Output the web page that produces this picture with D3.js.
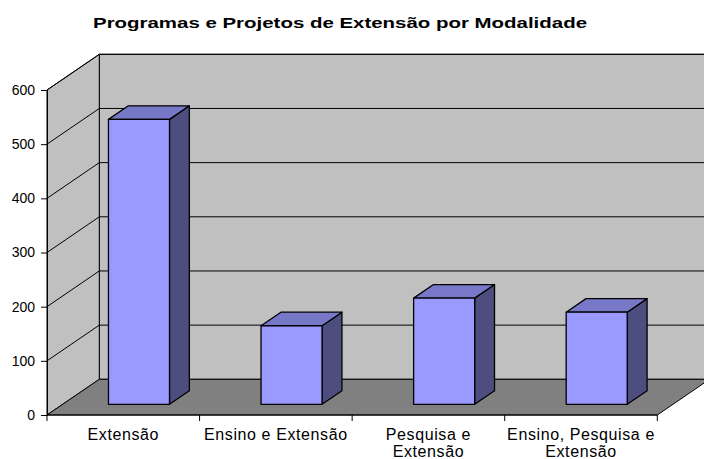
<!DOCTYPE html>
<html>
<head>
<meta charset="utf-8">
<script src="https://cdn.jsdelivr.net/npm/d3@7"></script>
<style>
  html, body { margin: 0; padding: 0; background: #fff; }
  svg { display: block; }
  text { font-family: "Liberation Sans", Arial, sans-serif; fill: #000; }
</style>
</head>
<body>
<svg id="chart" width="704" height="459"></svg>
<script>
// ---- data ----
const title = "Programas e Projetos de Extensão por Modalidade";
const categories = ["Extensão", "Ensino e Extensão", "Pesquisa e Extensão", "Ensino, Pesquisa e Extensão"];
const categoryLines = [["Extensão"], ["Ensino e Extensão"], ["Pesquisa e", "Extensão"], ["Ensino, Pesquisa e", "Extensão"]];
const values = [526, 145, 196, 170];
const yTicks = [0, 100, 200, 300, 400, 500, 600];

// ---- layout ----
const svg = d3.select("#chart");
const x0 = 47, yZero = 415, plotW = 610.3, plotH = 325;
const depthDx = 52.3, depthDy = -35.7;
const barFront = 0.3, barBack = 0.68, barFrac = 0.4;

const xBand = d3.scaleBand().domain(categories).range([x0, x0 + plotW]).padding(0);
const y = d3.scaleLinear().domain([0, 600]).range([yZero, yZero - plotH]);

// project point: u = x on front plane, v = value, d = depth fraction
const P = (u, v, d) => [u + d * depthDx, y(v) + d * depthDy];
const poly = pts => "M" + pts.map(p => p.join(",")).join("L") + "Z";

const xEnd = x0 + plotW;
// back wall
svg.append("path")
  .attr("d", poly([P(x0, 0, 1), P(x0, 600, 1), P(xEnd, 600, 1), P(xEnd, 0, 1)]))
  .attr("fill", "#C0C0C0").attr("stroke", "#000").attr("stroke-width", 1);
// left wall
svg.append("path")
  .attr("d", poly([P(x0, 0, 0), P(x0, 600, 0), P(x0, 600, 1), P(x0, 0, 1)]))
  .attr("fill", "#C0C0C0").attr("stroke", "#000").attr("stroke-width", 1);
// floor
svg.append("path")
  .attr("d", poly([P(x0, 0, 0), P(xEnd, 0, 0), P(xEnd, 0, 1), P(x0, 0, 1)]))
  .attr("fill", "#808080").attr("stroke", "#000").attr("stroke-width", 1);

// gridlines
const grid = svg.append("g").attr("stroke", "#000").attr("stroke-width", 1).attr("fill", "none");
yTicks.filter(v => v > 0).forEach(v => {
  const a = P(x0, v, 0), b = P(x0, v, 1), c = P(xEnd, v, 1);
  grid.append("path").attr("d", `M${a}L${b}L${c}`);
});

// bars
const bars = svg.append("g");
categories.forEach((c, i) => {
  const v = values[i];
  const cx = xBand(c) + xBand.bandwidth() / 2;
  const w = xBand.bandwidth() * barFrac;
  const l = cx - w / 2, r = cx + w / 2;
  const g = bars.append("g").attr("stroke", "#000").attr("stroke-width", 1.3).attr("stroke-linejoin", "round");
  g.append("path").attr("d", poly([P(r, 0, barFront), P(r, v, barFront), P(r, v, barBack), P(r, 0, barBack)]))
    .attr("fill", "#4D4D80");
  g.append("path").attr("d", poly([P(l, v, barFront), P(r, v, barFront), P(r, v, barBack), P(l, v, barBack)]))
    .attr("fill", "#7878C8");
  g.append("path").attr("d", poly([P(l, 0, barFront), P(r, 0, barFront), P(r, v, barFront), P(l, v, barFront)]))
    .attr("fill", "#9999FF");
});

// y axis
const yAxis = d3.axisLeft(y).tickValues(yTicks).tickSize(6).tickSizeOuter(0).tickPadding(6).tickFormat(d3.format("d"));
const ya = svg.append("g").attr("transform", `translate(${x0},0)`).call(yAxis);
ya.select(".domain").attr("stroke", "#000");
ya.selectAll(".tick line").attr("stroke", "#000");
ya.selectAll(".tick text").attr("font-size", 14).attr("font-family", '"Liberation Sans", Arial, sans-serif').attr("fill", "#000");

// x axis line & boundary ticks
const xa = svg.append("g").attr("stroke", "#000").attr("stroke-width", 1);
xa.append("line").attr("x1", x0).attr("x2", xEnd).attr("y1", yZero).attr("y2", yZero);
const bounds = categories.map(c => xBand(c)).concat([xEnd]);
bounds.forEach(bx => {
  xa.append("line").attr("x1", bx).attr("x2", bx).attr("y1", yZero).attr("y2", yZero + 6);
});

// category labels
const labels = svg.append("g").attr("font-size", 16).attr("letter-spacing", "0.6px").attr("text-anchor", "middle");
categories.forEach((c, i) => {
  const cx = xBand(c) + xBand.bandwidth() / 2;
  const t = labels.append("text").attr("x", cx).attr("y", 440);
  categoryLines[i].forEach((line, j) => {
    t.append("tspan").attr("x", cx).attr("dy", j === 0 ? 0 : 17).text(line);
  });
});

// title
svg.append("text")
  .attr("x", 340).attr("y", 28)
  .attr("text-anchor", "middle")
  .attr("font-size", 15.5).attr("font-weight", "bold")
  .attr("textLength", 494).attr("lengthAdjust", "spacingAndGlyphs")
  .text(title);
</script>
</body>
</html>
